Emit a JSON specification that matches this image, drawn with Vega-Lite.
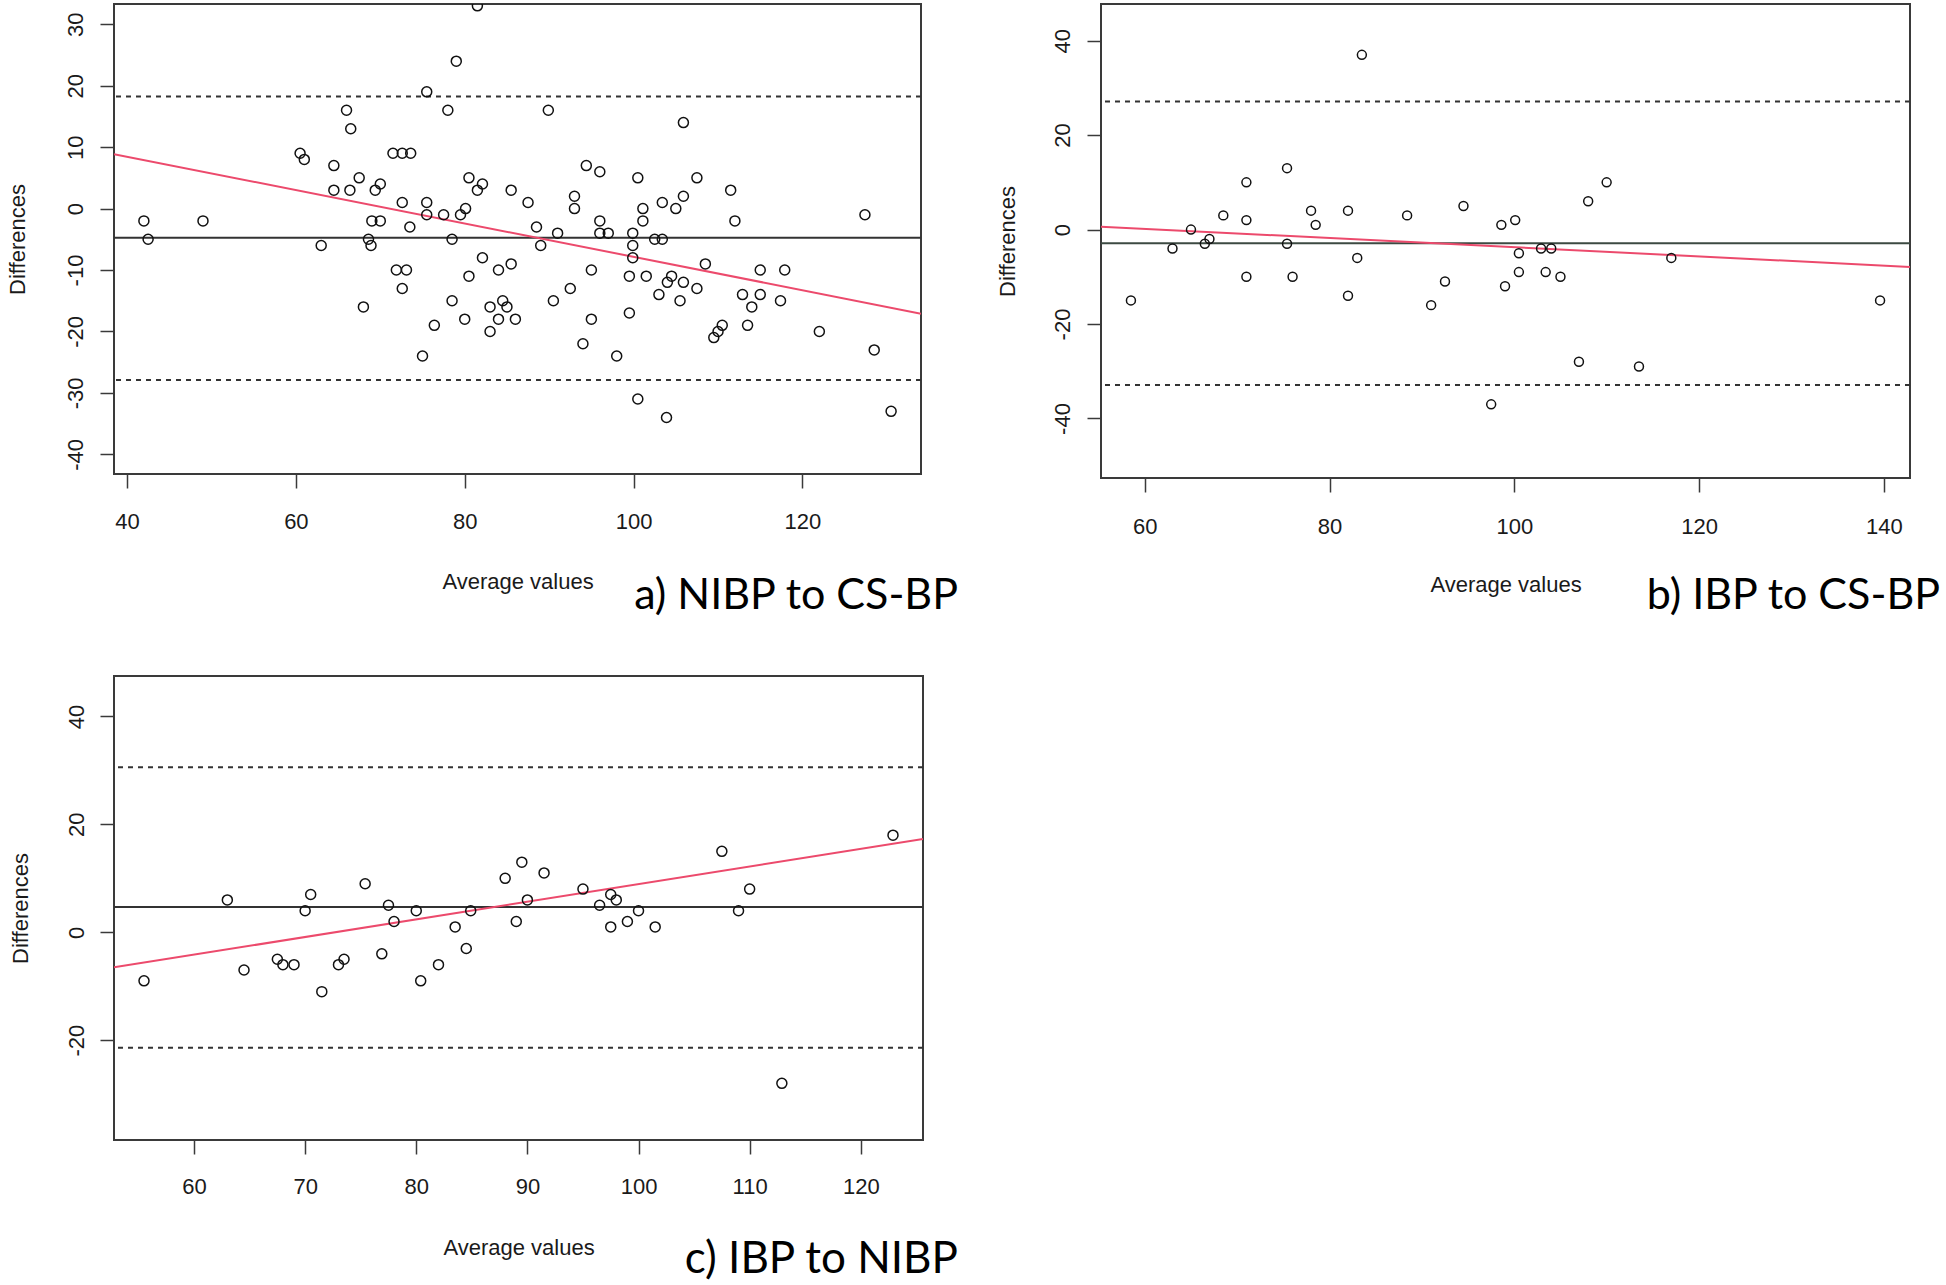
{
  "$schema": "https://vega.github.io/schema/vega-lite/v6.json",
  "background": "white",
  "padding": {"left": 5, "top": 3, "right": 5, "bottom": 5},
  "bounds": "flush",
  "columns": 2,
  "spacing": {"row": 198, "column": 178},
  "config": {
    "view": {"stroke": "#3a3a3a", "strokeWidth": 2},
    "axis": {
      "domain": false, "grid": false,
      "tickColor": "#3a3a3a", "tickWidth": 1.5, "tickSize": 14,
      "labelFont": "Liberation Sans", "labelFontSize": 22, "labelColor": "#1a1a1a",
      "titleFont": "Liberation Sans", "titleFontSize": 22, "titleFontWeight": "normal", "titleColor": "#1a1a1a",
      "labelExpr": "datum.value < 0 ? '-' + abs(datum.value) : '' + datum.value"
    },
    "title": {"orient": "bottom", "anchor": "end", "frame": "group", "baseline": "alphabetic", "font": "Lato", "fontSize": 43, "fontWeight": "normal", "color": "#000"}
  },
  "datasets": {
    "ptsA": [
      {"avg":42,"d":-2},{"avg":42.5,"d":-5},{"avg":49,"d":-2},{"avg":60.5,"d":9},{"avg":61,"d":8},{"avg":63,"d":-6},{"avg":64.5,"d":7},{"avg":64.5,"d":3},{"avg":66,"d":16},{"avg":66.5,"d":13},{"avg":66.4,"d":3},{"avg":67.5,"d":5},{"avg":68,"d":-16},{"avg":68.6,"d":-5},{"avg":68.9,"d":-6},{"avg":69,"d":-2},{"avg":70,"d":-2},{"avg":69.4,"d":3},{"avg":70,"d":4},{"avg":71.9,"d":-10},{"avg":73.1,"d":-10},{"avg":72.6,"d":-13},{"avg":71.5,"d":9},{"avg":72.6,"d":9},{"avg":73.6,"d":9},{"avg":72.6,"d":1},{"avg":73.5,"d":-3},{"avg":75,"d":-24},{"avg":75.5,"d":19},{"avg":75.5,"d":1},{"avg":75.5,"d":-1},{"avg":76.4,"d":-19},{"avg":77.5,"d":-1},{"avg":78,"d":16},{"avg":78.5,"d":-5},{"avg":78.5,"d":-15},{"avg":79,"d":24},{"avg":79.5,"d":-1},{"avg":80.1,"d":0},{"avg":80,"d":-18},{"avg":80.5,"d":-11},{"avg":80.5,"d":5},{"avg":81.5,"d":3},{"avg":82.1,"d":4},{"avg":81.5,"d":33},{"avg":82.1,"d":-8},{"avg":84,"d":-10},{"avg":83,"d":-16},{"avg":83,"d":-20},{"avg":84,"d":-18},
      {"avg":89.9,"d":16},{"avg":105.9,"d":14},{"avg":94.4,"d":7},{"avg":96,"d":6},{"avg":100.5,"d":5},{"avg":107.5,"d":5},{"avg":85.5,"d":3},{"avg":111.5,"d":3},{"avg":93,"d":2},{"avg":87.5,"d":1},{"avg":103.4,"d":1},{"avg":105.9,"d":2},{"avg":93,"d":0},{"avg":101.1,"d":0},{"avg":105,"d":0},{"avg":127.4,"d":-1},{"avg":112,"d":-2},{"avg":96,"d":-2},{"avg":101.1,"d":-2},{"avg":88.5,"d":-3},{"avg":96,"d":-4},{"avg":97,"d":-4},{"avg":91,"d":-4},{"avg":99.9,"d":-4},{"avg":102.5,"d":-5},{"avg":103.4,"d":-5},{"avg":89,"d":-6},{"avg":99.9,"d":-6},{"avg":99.9,"d":-8},{"avg":108.5,"d":-9},{"avg":85.5,"d":-9},{"avg":95,"d":-10},{"avg":99.5,"d":-11},{"avg":101.5,"d":-11},{"avg":104.5,"d":-11},{"avg":104,"d":-12},{"avg":105.9,"d":-12},{"avg":115,"d":-10},{"avg":117.9,"d":-10},{"avg":107.5,"d":-13},{"avg":92.5,"d":-13},{"avg":112.9,"d":-14},{"avg":115,"d":-14},{"avg":103,"d":-14},{"avg":84.5,"d":-15},{"avg":85,"d":-16},{"avg":90.5,"d":-15},{"avg":105.5,"d":-15},{"avg":117.4,"d":-15},{"avg":114,"d":-16},{"avg":86,"d":-18},{"avg":95,"d":-18},{"avg":99.5,"d":-17},{"avg":113.5,"d":-19},{"avg":110.5,"d":-19},{"avg":110,"d":-20},{"avg":109.5,"d":-21},{"avg":122,"d":-20},{"avg":94,"d":-22},{"avg":98,"d":-24},{"avg":128.5,"d":-23},{"avg":100.5,"d":-31},{"avg":103.9,"d":-34},{"avg":130.5,"d":-33}
    ],
    "refA": [{"kind":"mean","d":-4.73},{"kind":"limit","d":18.26},{"kind":"limit","d":-27.9}],
    "regA": [{"avg":38.46,"d":8.86},{"avg":134.04,"d":-17.1}],
    "ptsB": [
      {"avg":58.5,"d":-15},{"avg":63,"d":-4},{"avg":65,"d":0},{"avg":66.5,"d":-3},{"avg":67,"d":-2},{"avg":68.5,"d":3},{"avg":71,"d":10},{"avg":71,"d":2},{"avg":71,"d":-10},{"avg":75.4,"d":13},{"avg":75.4,"d":-3},{"avg":76,"d":-10},{"avg":78,"d":4},{"avg":78.5,"d":1},{"avg":82,"d":4},{"avg":82,"d":-14},{"avg":83,"d":-6},{"avg":83.5,"d":37},{"avg":88.4,"d":3},{"avg":91,"d":-16},{"avg":92.5,"d":-11},{"avg":94.5,"d":5},{"avg":97.5,"d":-37},{"avg":98.6,"d":1},{"avg":99,"d":-12},{"avg":100.1,"d":2},{"avg":100.5,"d":-5},{"avg":100.5,"d":-9},{"avg":102.9,"d":-4},{"avg":104,"d":-4},{"avg":103.4,"d":-9},{"avg":105,"d":-10},{"avg":107,"d":-28},{"avg":108,"d":6},{"avg":110,"d":10},{"avg":113.5,"d":-29},{"avg":117,"d":-6},{"avg":139.6,"d":-15}
    ],
    "refB": [{"kind":"mean","d":-2.88},{"kind":"limit","d":27.1},{"kind":"limit","d":-32.9}],
    "regB": [{"avg":55.26,"d":0.6},{"avg":142.84,"d":-7.9}],
    "ptsC": [
      {"avg":55.5,"d":-9},{"avg":63,"d":6},{"avg":64.5,"d":-7},{"avg":67.5,"d":-5},{"avg":68,"d":-6},{"avg":69,"d":-6},{"avg":70,"d":4},{"avg":70.5,"d":7},{"avg":71.5,"d":-11},{"avg":73,"d":-6},{"avg":73.5,"d":-5},{"avg":75.4,"d":9},{"avg":76.9,"d":-4},{"avg":77.5,"d":5},{"avg":78,"d":2},{"avg":80,"d":4},{"avg":80.4,"d":-9},{"avg":82,"d":-6},{"avg":83.5,"d":1},{"avg":84.5,"d":-3},{"avg":84.9,"d":4},{"avg":88,"d":10},{"avg":89,"d":2},{"avg":89.5,"d":13},{"avg":90,"d":6},{"avg":91.5,"d":11},{"avg":95,"d":8},{"avg":96.5,"d":5},{"avg":97.5,"d":7},{"avg":97.5,"d":1},{"avg":98,"d":6},{"avg":99,"d":2},{"avg":100,"d":4},{"avg":101.5,"d":1},{"avg":107.5,"d":15},{"avg":109,"d":4},{"avg":110,"d":8},{"avg":112.9,"d":-28},{"avg":122.9,"d":18}
    ],
    "refC": [{"kind":"mean","d":4.7},{"kind":"limit","d":30.6},{"kind":"limit","d":-21.4}],
    "regC": [{"avg":52.8,"d":-6.5},{"avg":125.6,"d":17.3}]
  },
  "concat": [
    {
      "width": 807, "height": 470,
      "title": {"text": "a) NIBP to CS-BP", "dx": 37, "offset": -17},
      "layer": [
        {
          "data": {"name": "refA"},
          "transform": [{"filter": "datum.kind == 'mean'"}],
          "mark": {"type": "rule", "color": "#333", "strokeWidth": 2},
          "encoding": {"y": {"field": "d", "type": "quantitative", "title": "Differences", "scale": {"domain": [-43.2, 33.3], "nice": false, "zero": false}}}
        },
        {
          "data": {"name": "refA"},
          "transform": [{"filter": "datum.kind == 'limit'"}],
          "mark": {"type": "rule", "color": "#333", "strokeWidth": 2, "strokeDash": [5, 5]},
          "encoding": {"y": {"field": "d", "type": "quantitative", "title": "Differences", "scale": {"domain": [-43.2, 33.3], "nice": false, "zero": false}}}
        },
        {
          "data": {"name": "regA"},
          "mark": {"type": "line", "color": "#ec4a6c", "strokeWidth": 2, "clip": true},
          "encoding": {
            "x": {"field": "avg", "type": "quantitative", "title": "Average values", "scale": {"domain": [38.46, 134.04], "nice": false, "zero": false}},
            "y": {"field": "d", "type": "quantitative", "title": "Differences", "scale": {"domain": [-43.2, 33.3], "nice": false, "zero": false}}
          }
        },
        {
          "data": {"name": "ptsA"},
          "mark": {"type": "point", "shape": "circle", "filled": false, "stroke": "#111", "strokeWidth": 1.5, "size": 100, "opacity": 1, "clip": true},
          "encoding": {
            "x": {"field": "avg", "type": "quantitative", "title": "Average values", "scale": {"domain": [38.46, 134.04], "nice": false, "zero": false},
                  "axis": {"values": [40, 60, 80, 100, 120], "labelBaseline": "middle", "labelPadding": 33, "titleBaseline": "alphabetic", "titleY": 114}},
            "y": {"field": "d", "type": "quantitative", "title": "Differences", "scale": {"domain": [-43.2, 33.3], "nice": false, "zero": false},
                  "axis": {"values": [-40, -30, -20, -10, 0, 10, 20, 30], "labelAngle": 270, "labelAlign": "center", "labelBaseline": "alphabetic", "labelPadding": 18, "titleAngle": 270, "titleBaseline": "alphabetic", "titleX": -90}}
          }
        }
      ]
    },
    {
      "width": 809, "height": 474,
      "title": {"text": "b) IBP to CS-BP", "dx": 30, "offset": -20},
      "layer": [
        {
          "data": {"name": "refB"},
          "transform": [{"filter": "datum.kind == 'mean'"}],
          "mark": {"type": "rule", "color": "#3c4a42", "strokeWidth": 2},
          "encoding": {"y": {"field": "d", "type": "quantitative", "title": "Differences", "scale": {"domain": [-52.6, 47.76], "nice": false, "zero": false}}}
        },
        {
          "data": {"name": "refB"},
          "transform": [{"filter": "datum.kind == 'limit'"}],
          "mark": {"type": "rule", "color": "#333", "strokeWidth": 2, "strokeDash": [5, 5]},
          "encoding": {"y": {"field": "d", "type": "quantitative", "title": "Differences", "scale": {"domain": [-52.6, 47.76], "nice": false, "zero": false}}}
        },
        {
          "data": {"name": "regB"},
          "mark": {"type": "line", "color": "#ec4a6c", "strokeWidth": 2, "clip": true},
          "encoding": {
            "x": {"field": "avg", "type": "quantitative", "title": "Average values", "scale": {"domain": [55.26, 142.84], "nice": false, "zero": false}},
            "y": {"field": "d", "type": "quantitative", "title": "Differences", "scale": {"domain": [-52.6, 47.76], "nice": false, "zero": false}}
          }
        },
        {
          "data": {"name": "ptsB"},
          "mark": {"type": "point", "shape": "circle", "filled": false, "stroke": "#111", "strokeWidth": 1.5, "size": 80, "opacity": 1, "clip": true},
          "encoding": {
            "x": {"field": "avg", "type": "quantitative", "title": "Average values", "scale": {"domain": [55.26, 142.84], "nice": false, "zero": false},
                  "axis": {"values": [60, 80, 100, 120, 140], "labelBaseline": "middle", "labelPadding": 34, "titleBaseline": "alphabetic", "titleY": 113}},
            "y": {"field": "d", "type": "quantitative", "title": "Differences", "scale": {"domain": [-52.6, 47.76], "nice": false, "zero": false},
                  "axis": {"values": [-40, -20, 0, 20, 40], "labelAngle": 270, "labelAlign": "center", "labelBaseline": "alphabetic", "labelPadding": 18, "titleAngle": 270, "titleBaseline": "alphabetic", "titleX": -87}}
          }
        }
      ]
    },
    {
      "width": 809, "height": 464,
      "title": {"text": "c) IBP to NIBP", "dx": 35, "offset": -20, "fontSize": 44},
      "layer": [
        {
          "data": {"name": "refC"},
          "transform": [{"filter": "datum.kind == 'mean'"}],
          "mark": {"type": "rule", "color": "#333", "strokeWidth": 2},
          "encoding": {"y": {"field": "d", "type": "quantitative", "title": "Differences", "scale": {"domain": [-38.5, 47.5], "nice": false, "zero": false}}}
        },
        {
          "data": {"name": "refC"},
          "transform": [{"filter": "datum.kind == 'limit'"}],
          "mark": {"type": "rule", "color": "#333", "strokeWidth": 2, "strokeDash": [5, 5]},
          "encoding": {"y": {"field": "d", "type": "quantitative", "title": "Differences", "scale": {"domain": [-38.5, 47.5], "nice": false, "zero": false}}}
        },
        {
          "data": {"name": "regC"},
          "mark": {"type": "line", "color": "#ec4a6c", "strokeWidth": 2, "clip": true},
          "encoding": {
            "x": {"field": "avg", "type": "quantitative", "title": "Average values", "scale": {"domain": [52.8, 125.6], "nice": false, "zero": false}},
            "y": {"field": "d", "type": "quantitative", "title": "Differences", "scale": {"domain": [-38.5, 47.5], "nice": false, "zero": false}}
          }
        },
        {
          "data": {"name": "ptsC"},
          "mark": {"type": "point", "shape": "circle", "filled": false, "stroke": "#111", "strokeWidth": 1.5, "size": 100, "opacity": 1, "clip": true},
          "encoding": {
            "x": {"field": "avg", "type": "quantitative", "title": "Average values", "scale": {"domain": [52.8, 125.6], "nice": false, "zero": false},
                  "axis": {"values": [60, 70, 80, 90, 100, 110, 120], "labelBaseline": "middle", "labelPadding": 32, "titleBaseline": "alphabetic", "titleY": 114}},
            "y": {"field": "d", "type": "quantitative", "title": "Differences", "scale": {"domain": [-38.5, 47.5], "nice": false, "zero": false},
                  "axis": {"values": [-20, 0, 20, 40], "labelAngle": 270, "labelAlign": "center", "labelBaseline": "alphabetic", "labelPadding": 17, "titleAngle": 270, "titleBaseline": "alphabetic", "titleX": -87}}
          }
        }
      ]
    }
  ]
}
